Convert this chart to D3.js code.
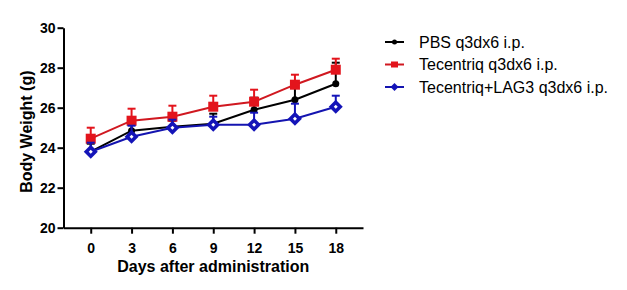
<!DOCTYPE html>
<meta charset="utf-8">
<script src="https://d3js.org/d3.v7.min.js"></script>
<style>
  body { margin: 0; background: #fff; }
  text { font-family: "Liberation Sans", Arial, sans-serif; }
</style>
<div id="my_dataviz"></div>
<script>
// data
var days = [0, 3, 6, 9, 12, 15, 18];
var pbs      = [23.8, 24.85, 25.05, 25.2, 25.9, 26.4, 27.2];
var pbsErr   = [0.4, 0.3, 0.3, 0.5, 0.6, 0.6, 1.05];
var tec      = [24.45, 25.35, 25.55, 26.05, 26.3, 27.15, 27.9];
var tecErr   = [0.55, 0.6, 0.55, 0.55, 0.6, 0.5, 0.55];
var lag3     = [23.8, 24.55, 25.0, 25.15, 25.15, 25.45, 26.05];
var lag3Err  = [0.45, 0.55, 0.4, 0.4, 0.6, 0.75, 0.55];
var yTicks = [20, 22, 24, 26, 28, 30];
var seriesNames = ["PBS q3dx6 i.p.", "Tecentriq q3dx6 i.p.", "Tecentriq+LAG3 q3dx6 i.p."];

var width = 627, height = 290;
var svg = d3.select("#my_dataviz").append("svg")
    .attr("width", width).attr("height", height);

var x = d3.scaleLinear().domain([-2, 20]).range([63.5, 363]);
var y = d3.scaleLinear().domain([20, 30]).range([227.7, 27.7]);

// axes
var xAxis = svg.append("g")
    .attr("transform", "translate(0," + y(20) + ")")
    .call(d3.axisBottom(x).tickValues(days).tickSize(6).tickSizeOuter(0));
var yAxis = svg.append("g")
    .attr("transform", "translate(" + x(-2) + ",0)")
    .call(d3.axisLeft(y).tickValues(yTicks).tickSize(6).tickSizeOuter(0));
[xAxis, yAxis].forEach(function(a) {
  a.select(".domain").attr("stroke", "#000").attr("stroke-width", 2);
  a.selectAll(".tick line").attr("stroke", "#000").attr("stroke-width", 2);
  a.selectAll(".tick text")
    .style("font-size", "14px").style("font-weight", "bold").attr("fill", "#000");
});
xAxis.selectAll(".tick text").attr("dy", "1.15em");
yAxis.selectAll(".tick text").attr("x", -8);

// axis titles
svg.append("text")
    .attr("x", x(9)).attr("y", 272)
    .attr("text-anchor", "middle")
    .style("font-size", "16px").style("font-weight", "bold")
    .text("Days after administration");
svg.append("text")
    .attr("transform", "translate(31.5," + y(24.8) + ") rotate(-90)")
    .attr("text-anchor", "middle")
    .style("font-size", "16px").style("font-weight", "bold")
    .text("Body Weight (g)");

var series = [
  {name: seriesNames[0], vals: pbs, err: pbsErr, color: "#000000", line: "#000000", shape: "circle"},
  {name: seriesNames[1], vals: tec, err: tecErr, color: "#e3141c", line: "#d01820", shape: "square"},
  {name: seriesNames[2], vals: lag3, err: lag3Err, color: "#1414b8", line: "#1414b0", shape: "diamond"}
];

var line = d3.line()
    .x(function(d) { return x(d[0]); })
    .y(function(d) { return y(d[1]); });

function diamond(cx, cy, r) {
  return "M" + cx + "," + (cy - r) + "L" + (cx + r) + "," + cy + "L" + cx + "," + (cy + r) + "L" + (cx - r) + "," + cy + "Z";
}

function marker(g, s, cx, cy) {
  if (s.shape == "circle") {
    g.append("circle").attr("cx", cx).attr("cy", cy).attr("r", 3.5).attr("fill", s.color);
  } else if (s.shape == "square") {
    g.append("rect").attr("x", cx - 5).attr("y", cy - 5)
      .attr("width", 10).attr("height", 10).attr("fill", s.color);
  } else {
    g.append("path").attr("d", diamond(cx, cy, 7)).attr("fill", s.color);
    g.append("path").attr("d", diamond(cx, cy, 2)).attr("fill", "#ffffff");
  }
}

series.forEach(function(s) {
  var g = svg.append("g");
  var pts = days.map(function(d, i) { return [d, s.vals[i], s.err[i]]; });
  // error bars (upper only)
  pts.forEach(function(p) {
    g.append("line")
      .attr("x1", x(p[0])).attr("x2", x(p[0]))
      .attr("y1", y(p[1])).attr("y2", y(p[1] + p[2]))
      .attr("stroke", s.color).attr("stroke-width", 2);
    g.append("line")
      .attr("x1", x(p[0]) - 4).attr("x2", x(p[0]) + 4)
      .attr("y1", y(p[1] + p[2])).attr("y2", y(p[1] + p[2]))
      .attr("stroke", s.color).attr("stroke-width", 2);
  });
  g.append("path").datum(pts)
    .attr("d", line).attr("fill", "none")
    .attr("stroke", s.line).attr("stroke-width", 2);
  pts.forEach(function(p) { marker(g, s, x(p[0]), y(p[1])); });
});

// legend
series.forEach(function(s, i) {
  var ly = 42 + i * 22.5;
  var g = svg.append("g");
  g.append("line").attr("x1", 385).attr("x2", 404).attr("y1", ly).attr("y2", ly)
    .attr("stroke", s.line).attr("stroke-width", 2);
  if (s.shape == "diamond") {
    g.append("path").attr("d", diamond(394.5, ly, 4)).attr("fill", s.color);
  } else if (s.shape == "square") {
    g.append("rect").attr("x", 391).attr("y", ly - 3).attr("width", 7).attr("height", 6).attr("fill", s.color);
  } else {
    g.append("circle").attr("cx", 394.5).attr("cy", ly).attr("r", 2.5).attr("fill", s.color);
  }
  g.append("text").attr("x", 419).attr("y", ly + 5.5)
    .style("font-size", "16px").attr("fill", "#000").text(s.name);
});
</script>
